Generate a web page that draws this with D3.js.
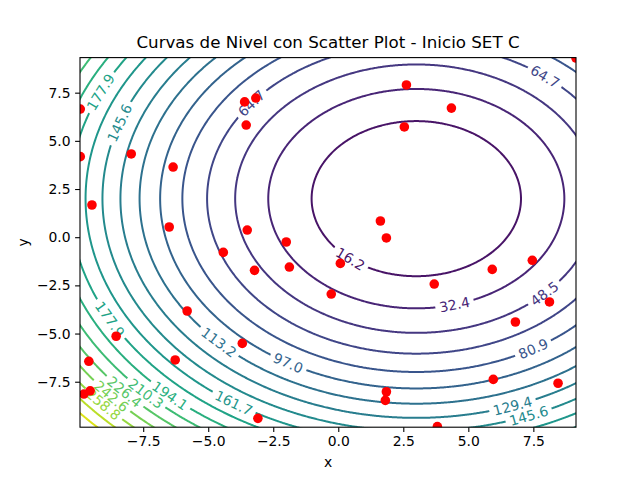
<!DOCTYPE html>
<html>
<head>
<meta charset="utf-8">
<script src="https://cdn.jsdelivr.net/npm/d3@7"></script>
<style>
    body { margin: 0; background: #fff; }
    text { font-family: "DejaVu Sans", sans-serif; }
</style>
</head>
<body>
<svg id="chart" width="640" height="480"></svg>
<script>
// scatter points
const xPoints = [-9.92, -9.92, -9.47, -7.96, -6.35, -6.50, -3.60, -3.17, -3.54, -3.50,
                 -2.00, 2.62, 4.35, 2.54, 1.62, 1.85, 9.14, -4.42, -3.22, -1.88,
                 -0.27, -5.81, -8.54, -3.69, -6.27, -9.59, -9.54, -9.78, -3.09, 0.08,
                 3.69, 5.92, 7.46, 8.12, 6.81, 5.96, 8.45, 1.85, 1.81, 3.81];
const yPoints = [6.65, 4.18, 1.67, 4.32, 3.64, 0.53, 7.02, 7.22, 5.82, 0.37,
                 -0.25, 7.90, 6.70, 5.72, 0.84, -0.04, 9.30, -0.79, -1.72, -1.55,
                 -2.95, -3.83, -5.14, -5.51, -6.37, -6.44, -7.97, -8.14, -9.40, -1.36,
                 -2.43, -1.67, -1.20, -3.36, -4.40, -7.38, -7.58, -8.02, -8.47, -9.83];

// contour levels drawn in the plot
const levels = [16.2, 32.4, 48.5, 64.7, 80.9, 97.0, 113.2, 129.4, 145.6,
                161.7, 177.9, 194.1, 210.3, 226.4, 242.6, 258.8, 275.0, 291.1];
const colorRange = [0, 307.3];

const xTicks = [-7.5, -5.0, -2.5, 0.0, 2.5, 5.0, 7.5];
const yTicks = [-7.5, -5.0, -2.5, 0.0, 2.5, 5.0, 7.5];

const xDomain = [-9.93, 9.14];
const yDomain = [-9.86, 9.32];

// the surface: z = (x - 3)^2 + (y - 2)^2
const center = [3, 2];
const surface = (x, y) => (x - center[0]) ** 2 + (y - center[1]) ** 2;

// where the inline labels sit: level and angle round the centre (degrees)
const labelSpots = [
    [16.2, -129], [32.4, -75], [48.5, -45], [64.7, 52], [64.7, 142],
    [80.9, -60], [97.0, -120], [113.2, -135.5], [129.4, -71], [145.6, -69],
    [145.6, 161], [161.7, -123.5], [177.9, 155.5], [177.9, -152], [194.1, -132.8],
    [210.3, -135.8], [226.4, -138.2], [242.6, -138.8], [258.8, -138.4]
];

const width = 640, height = 480;
const margin = {left: 80, right: 64, top: 57.6, bottom: 52.8};
const plotW = width - margin.left - margin.right;
const plotH = height - margin.top - margin.bottom;

const svg = d3.select("#chart");
const fmt = d3.format(".1f");

const sx = d3.scaleLinear().domain(xDomain).range([0, plotW]);
const sy = d3.scaleLinear().domain(yDomain).range([plotH, 0]);
const color = lvl => d3.interpolateViridis((lvl - colorRange[0]) / (colorRange[1] - colorRange[0]));

const defs = svg.append("defs");
defs.append("clipPath").attr("id", "plot-clip")
    .append("rect").attr("width", plotW).attr("height", plotH);

const g = svg.append("g")
    .attr("transform", `translate(${margin.left},${margin.top})`);

// sample the surface on a grid wider than the axes so the clipped
// contour rings never run along the plot edge
const step = 0.04, gx0 = -14, gy0 = -14;
const nx = Math.round(28 / step) + 1, ny = Math.round(28 / step) + 1;
const grid = new Float64Array(nx * ny);
for (let j = 0; j < ny; j++) {
    for (let i = 0; i < nx; i++) {
        grid[j * nx + i] = surface(gx0 + i * step, gy0 + j * step);
    }
}

const contours = d3.contours().size([nx, ny]).thresholds(levels)(grid);
const path = d3.geoPath(d3.geoTransform({
    point(x, y) {
        this.stream.point(sx(gx0 + (x - 0.5) * step), sy(gy0 + (y - 0.5) * step));
    }
}));

const plot = g.append("g").attr("clip-path", "url(#plot-clip)");
const lineLayer = plot.append("g");
const labelLayer = plot.append("g");

// one mask per level, so a label only cuts its own line
const masks = levels.map((lvl, i) => {
    var m = defs.append("mask").attr("id", "cut-" + i)
        .attr("maskUnits", "userSpaceOnUse")
        .attr("x", -margin.left).attr("y", -margin.top)
        .attr("width", width).attr("height", height);
    m.append("rect")
        .attr("x", -margin.left).attr("y", -margin.top)
        .attr("width", width).attr("height", height)
        .attr("fill", "#fff");
    return m;
});

const kx = sx(1) - sx(0), ky = sy(0) - sy(1);

labelSpots.forEach(([lvl, deg]) => {
    var i = levels.indexOf(lvl);
    var r = Math.sqrt(lvl);
    var t = deg * Math.PI / 180;
    var px = sx(center[0] + r * Math.cos(t));
    var py = sy(center[1] + r * Math.sin(t));
    var rot = Math.atan2(-Math.cos(t) * ky, -Math.sin(t) * kx) * 180 / Math.PI;
    if (rot > 90) rot -= 180;
    if (rot < -90) rot += 180;

    var label = labelLayer.append("text")
        .attr("transform", `translate(${px},${py}) rotate(${rot})`)
        .attr("text-anchor", "middle")
        .attr("dy", "0.36em")
        .attr("font-size", "13.9px")
        .attr("fill", color(lvl))
        .text(fmt(lvl));

    var w = label.node().getComputedTextLength() + 8;
    masks[i].append("rect")
        .attr("transform", `translate(${px},${py}) rotate(${rot})`)
        .attr("x", -w / 2).attr("y", -9)
        .attr("width", w).attr("height", 18)
        .attr("fill", "#000");
});

lineLayer.selectAll("path")
    .data(contours)
    .join("path")
    .attr("d", path)
    .attr("fill", "none")
    .attr("stroke", d => color(d.value))
    .attr("stroke-width", 2)
    .attr("mask", (d, i) => `url(#cut-${i})`);

plot.append("g")
    .selectAll("circle")
    .data(xPoints.map((x, i) => [x, yPoints[i]]))
    .join("circle")
    .attr("cx", d => sx(d[0]))
    .attr("cy", d => sy(d[1]))
    .attr("r", 4.8)
    .attr("fill", "#ff0000");

// axes
const xAxis = g.append("g")
    .attr("transform", `translate(0,${plotH})`)
    .call(d3.axisBottom(sx).tickValues(xTicks).tickFormat(fmt)
        .tickSize(4.9).tickSizeOuter(0).tickPadding(4.5));
const yAxis = g.append("g")
    .call(d3.axisLeft(sy).tickValues(yTicks).tickFormat(fmt)
        .tickSize(4.9).tickSizeOuter(0).tickPadding(4.5));

[xAxis, yAxis].forEach(ax => {
    ax.select(".domain").remove();
    ax.attr("font-family", null).attr("font-size", null);
    ax.selectAll(".tick line").attr("stroke", "#000").attr("stroke-width", 1.1);
    ax.selectAll(".tick text").attr("fill", "#000").attr("font-size", "13.9px");
});

g.append("rect")
    .attr("width", plotW).attr("height", plotH)
    .attr("fill", "none").attr("stroke", "#000").attr("stroke-width", 1.1);

svg.append("text")
    .attr("x", margin.left + plotW / 2).attr("y", 48.3)
    .attr("text-anchor", "middle")
    .attr("font-size", "16.7px")
    .text("Curvas de Nivel con Scatter Plot - Inicio SET C");

svg.append("text")
    .attr("x", margin.left + plotW / 2).attr("y", 467)
    .attr("text-anchor", "middle")
    .attr("font-size", "13.9px")
    .text("x");

svg.append("text")
    .attr("transform", `translate(27.6,${margin.top + plotH / 2}) rotate(-90)`)
    .attr("text-anchor", "middle")
    .attr("font-size", "13.9px")
    .text("y");
</script>
</body>
</html>
